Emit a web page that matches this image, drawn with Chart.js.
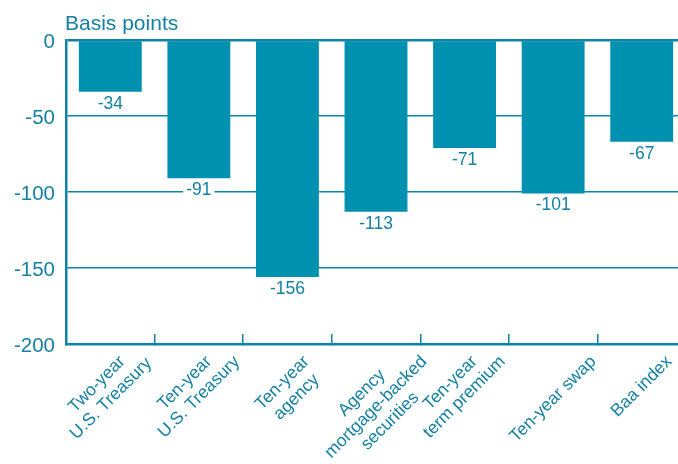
<!DOCTYPE html>
<html>
<head>
<meta charset="utf-8">
<script src="https://cdn.jsdelivr.net/npm/chart.js@4.4.0/dist/chart.umd.min.js"></script>
<style>
  html, body { margin: 0; padding: 0; background: #fff; overflow: hidden; }
  #wrap { width: 678px; height: 464px; overflow: hidden; }
  #box { width: 700px; height: 464px; }
</style>
</head>
<body>
<div id="wrap"><div id="box"><canvas id="chart"></canvas></div></div>
<script>
// Categories (multi-line labels) and values in basis points
const categories = [
    ['Two-year', 'U.S. Treasury'],
    ['Ten-year', 'U.S. Treasury'],
    ['Ten-year', 'agency'],
    ['Agency', 'mortgage-backed', 'securities'],
    ['Ten-year', 'term premium'],
    ['Ten-year swap'],
    ['Baa index']
];
const changes = [-34, -91, -156, -113, -71, -101, -67];
const yMin = -200;
const yMax = 0;
const yStep = 50;
const unitLabel = 'Basis points';

const BAR = '#0091b1';
const INK = '#1580a5';
const LINE = '#0e84a8';
const FONT = '"Liberation Sans", Arial, Helvetica, sans-serif';

// ---------------------------------
// Plugins for text the library can't place this way
// ---------------------------------

const unitTitle = {
    id: 'unitTitle',
    afterDraw(chart) {
        const ctx = chart.ctx;
        ctx.save();
        ctx.font = '21px ' + FONT;
        ctx.fillStyle = INK;
        ctx.textAlign = 'left';
        ctx.textBaseline = 'alphabetic';
        ctx.fillText(unitLabel, chart.chartArea.left - 1, 30);
        ctx.restore();
    }
};

const valueLabels = {
    id: 'valueLabels',
    afterDatasetsDraw(chart) {
        const ctx = chart.ctx;
        const meta = chart.getDatasetMeta(0);
        ctx.save();
        ctx.font = '17.5px ' + FONT;
        ctx.textAlign = 'center';
        ctx.textBaseline = 'middle';
        meta.data.forEach(function(bar, i) {
            const txt = String(changes[i]);
            const w = ctx.measureText(txt).width;
            const y = bar.y + 12;
            ctx.fillStyle = '#fff';
            ctx.fillRect(bar.x - w / 2 - 3, y - 9, w + 6, 18);
            ctx.fillStyle = INK;
            ctx.fillText(txt, bar.x, y);
        });
        ctx.restore();
    }
};

// rotated, centre-aligned multi-line category labels
const catLabels = {
    id: 'catLabels',
    afterDraw(chart) {
        const ctx = chart.ctx;
        const xs = chart.scales.x;
        const lh = 20;
        const fs = 17.5;
        const c = Math.SQRT1_2;
        const top = 354;
        ctx.save();
        ctx.font = fs + 'px ' + FONT;
        ctx.fillStyle = INK;
        ctx.textAlign = 'center';
        ctx.textBaseline = 'middle';
        categories.forEach(function(lines, i) {
            const n = lines.length;
            let minX = Infinity, maxX = -Infinity, minY = Infinity;
            const widths = lines.map(l => ctx.measureText(l).width);
            lines.forEach(function(l, j) {
                const cy = (j - (n - 1) / 2) * lh;
                const hw = widths[j] / 2;
                [[-hw, cy - fs * 0.4], [hw, cy - fs * 0.4], [-hw, cy + fs * 0.4], [hw, cy + fs * 0.4]].forEach(function(p) {
                    const rx = c * p[0] + c * p[1];
                    const ry = -c * p[0] + c * p[1];
                    minX = Math.min(minX, rx);
                    maxX = Math.max(maxX, rx);
                    minY = Math.min(minY, ry);
                });
            });
            const cx = xs.getPixelForValue(i);
            const ox = cx - (minX + maxX) / 2;
            const oy = top - minY;
            ctx.save();
            ctx.translate(ox, oy);
            ctx.rotate(-Math.PI / 4);
            lines.forEach(function(l, j) {
                ctx.fillText(l, 0, (j - (n - 1) / 2) * lh);
            });
            ctx.restore();
        });
        ctx.restore();
    }
};

// ---------------------------------
// Chart
// ---------------------------------

const ctx = document.getElementById('chart').getContext('2d');
new Chart(ctx, {
    type: 'bar',
    data: {
        labels: categories,
        datasets: [{
            data: changes,
            backgroundColor: BAR,
            borderWidth: 0,
            barPercentage: 0.71,
            categoryPercentage: 1
        }]
    },
    options: {
        responsive: true,
        maintainAspectRatio: false,
        animation: false,
        layout: {
            padding: { left: 0, right: 14, top: 40, bottom: 120 }
        },
        plugins: {
            legend: { display: false },
            tooltip: { enabled: false }
        },
        scales: {
            x: {
                ticks: { display: false },
                grid: {
                    display: true,
                    offset: true,
                    drawOnChartArea: false,
                    drawTicks: true,
                    tickLength: -10,
                    color: LINE,
                    lineWidth: 1.5
                },
                border: { display: true, color: LINE, width: 2.5 },
                afterFit: function(s) { s.height = 0; }
            },
            y: {
                min: yMin,
                max: yMax,
                ticks: {
                    stepSize: yStep,
                    padding: 11,
                    labelOffset: 2,
                    color: INK,
                    font: { family: FONT, size: 20.5 }
                },
                grid: {
                    color: LINE,
                    drawTicks: false,
                    lineWidth: function(c) { return c.tick && c.tick.value === 0 ? 2.5 : 1.5; }
                },
                border: { display: true, color: LINE, width: 2.5 },
                afterFit: function(s) { s.width = 66; }
            }
        }
    },
    plugins: [unitTitle, valueLabels, catLabels]
});
</script>
</body>
</html>
